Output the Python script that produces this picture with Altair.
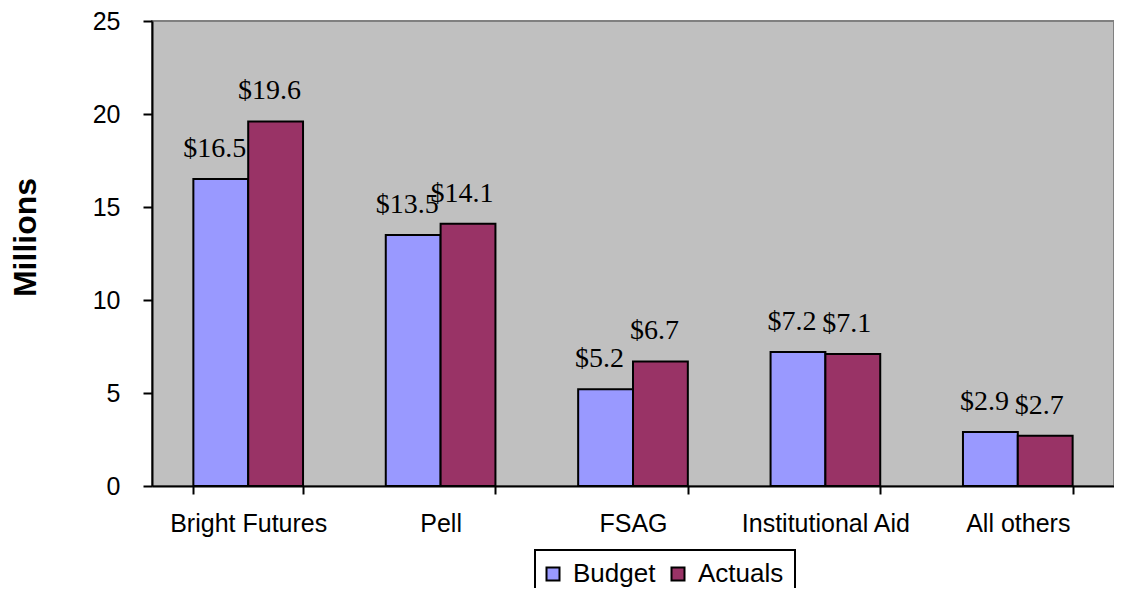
import altair as alt
import pandas as pd

categories = ["Bright Futures", "Pell", "FSAG", "Institutional Aid", "All others"]
series = ["Budget", "Actuals"]
budget = [16.5, 13.5, 5.2, 7.2, 2.9]
actuals = [19.6, 14.1, 6.7, 7.1, 2.7]
colors = ["#9999FF", "#993366"]
y_ticks = [0, 5, 10, 15, 20, 25]

rows = []
for c, b, a in zip(categories, budget, actuals):
    rows.append({"category": c, "series": "Budget", "value": b})
    rows.append({"category": c, "series": "Actuals", "value": a})
df = pd.DataFrame(rows)

SANS = "Liberation Sans"
SERIF = "Liberation Serif"

x_enc = alt.X(
    "category:N",
    sort=categories,
    scale=alt.Scale(paddingInner=0.43, paddingOuter=0.215),
    axis=alt.Axis(
        title=None,
        labelAngle=0,
        labelFont=SANS,
        labelFontSize=25,
        labelColor="black",
        labelPadding=17,
        tickBand="extent",
        tickSize=8,
        tickColor="black",
        tickWidth=2,
        domainColor="black",
        domainWidth=2,
    ),
)
xoff = alt.XOffset("series:N", sort=series, scale=alt.Scale(paddingInner=0, paddingOuter=0))
y_enc = alt.Y(
    "value:Q",
    scale=alt.Scale(domain=[0, 25], nice=False),
    axis=alt.Axis(
        title="Millions",
        values=y_ticks,
        grid=False,
        labelFont=SANS,
        labelFontSize=25,
        labelColor="black",
        labelPadding=23,
        tickSize=9,
        tickColor="black",
        tickWidth=2,
        domainColor="black",
        domainWidth=2,
        titleFont=SANS,
        titleFontSize=32,
        titleFontWeight="bold",
        titleColor="black",
        titleX=-117,
        titleY=216,
        titleBaseline="alphabetic",
        titleAlign="center",
        titleAngle=270,
    ),
)

bars = alt.Chart(df).mark_bar(stroke="black", strokeWidth=2).encode(
    x=x_enc,
    xOffset=xoff,
    y=y_enc,
    color=alt.Color(
        "series:N",
        sort=series,
        scale=alt.Scale(domain=series, range=colors),
        legend=alt.Legend(
            title=None,
            orient="none",
            direction="horizontal",
            legendX=383,
            legendY=529,
            strokeColor="black",
            padding=11,
            symbolType="square",
            symbolSize=169,
            symbolOffset=-6,
            symbolStrokeColor="black",
            symbolStrokeWidth=2,
            symbolOpacity=1,
            labelFont=SANS,
            labelFontSize=26,
            labelColor="black",
            labelOffset=7,
            columnPadding=11,
        ),
    ),
)

labels = alt.Chart(df).mark_text(
    font=SERIF, fontSize=28, color="black", baseline="alphabetic", dy=-22, dx=-6
).encode(
    x=alt.X("category:N", sort=categories),
    xOffset=alt.XOffset("series:N", sort=series),
    y=alt.Y("value:Q"),
    text=alt.Text("value:Q", format="$.1f"),
)

chart = (
    alt.layer(bars, labels)
    .properties(
        width=962,
        height=465,
        autosize="none",
        padding={"left": 144, "top": 13, "right": 0, "bottom": 102},
        background="white",
    )
    .configure_view(fill="#C0C0C0", stroke="#808080", strokeWidth=2)
    .configure_legend(strokeWidth=2)
)

chart.save("out.html", embed_options={"renderer": "svg", "actions": False})
